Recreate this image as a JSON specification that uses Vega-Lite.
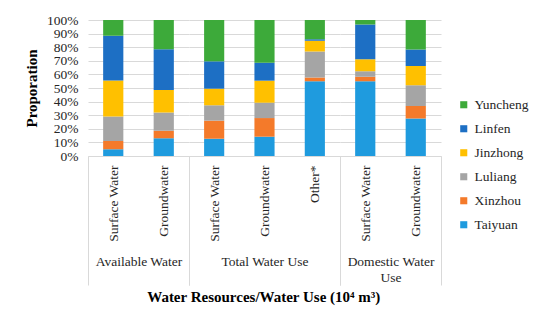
{
  "$schema": "https://vega.github.io/schema/vega-lite/v6.json",
  "background": "white",
  "padding": {"left": 24, "top": 13, "right": 5, "bottom": 5},
  "data": {"values": [
    {"group": "Available Water", "type": "Surface Water", "city": "Taiyuan", "value": 5.0},
    {"group": "Available Water", "type": "Surface Water", "city": "Xinzhou", "value": 6.0},
    {"group": "Available Water", "type": "Surface Water", "city": "Luliang", "value": 18.0},
    {"group": "Available Water", "type": "Surface Water", "city": "Jinzhong", "value": 26.5},
    {"group": "Available Water", "type": "Surface Water", "city": "Linfen", "value": 33.0},
    {"group": "Available Water", "type": "Surface Water", "city": "Yuncheng", "value": 11.5},
    {"group": "Available Water", "type": "Groundwater", "city": "Taiyuan", "value": 13.0},
    {"group": "Available Water", "type": "Groundwater", "city": "Xinzhou", "value": 5.5},
    {"group": "Available Water", "type": "Groundwater", "city": "Luliang", "value": 13.5},
    {"group": "Available Water", "type": "Groundwater", "city": "Jinzhong", "value": 16.5},
    {"group": "Available Water", "type": "Groundwater", "city": "Linfen", "value": 30.0},
    {"group": "Available Water", "type": "Groundwater", "city": "Yuncheng", "value": 21.5},
    {"group": "Total Water Use", "type": "Surface Water", "city": "Taiyuan", "value": 12.7},
    {"group": "Total Water Use", "type": "Surface Water", "city": "Xinzhou", "value": 13.3},
    {"group": "Total Water Use", "type": "Surface Water", "city": "Luliang", "value": 11.3},
    {"group": "Total Water Use", "type": "Surface Water", "city": "Jinzhong", "value": 12.2},
    {"group": "Total Water Use", "type": "Surface Water", "city": "Linfen", "value": 20.1},
    {"group": "Total Water Use", "type": "Surface Water", "city": "Yuncheng", "value": 30.4},
    {"group": "Total Water Use", "type": "Groundwater", "city": "Taiyuan", "value": 14.2},
    {"group": "Total Water Use", "type": "Groundwater", "city": "Xinzhou", "value": 13.7},
    {"group": "Total Water Use", "type": "Groundwater", "city": "Luliang", "value": 11.3},
    {"group": "Total Water Use", "type": "Groundwater", "city": "Jinzhong", "value": 16.2},
    {"group": "Total Water Use", "type": "Groundwater", "city": "Linfen", "value": 13.2},
    {"group": "Total Water Use", "type": "Groundwater", "city": "Yuncheng", "value": 31.4},
    {"group": "Total Water Use", "type": "Other*", "city": "Taiyuan", "value": 54.9},
    {"group": "Total Water Use", "type": "Other*", "city": "Xinzhou", "value": 2.9},
    {"group": "Total Water Use", "type": "Other*", "city": "Luliang", "value": 19.1},
    {"group": "Total Water Use", "type": "Other*", "city": "Jinzhong", "value": 7.9},
    {"group": "Total Water Use", "type": "Other*", "city": "Linfen", "value": 1.0},
    {"group": "Total Water Use", "type": "Other*", "city": "Yuncheng", "value": 14.2},
    {"group": "Domestic Water Use", "type": "Surface Water", "city": "Taiyuan", "value": 54.9},
    {"group": "Domestic Water Use", "type": "Surface Water", "city": "Xinzhou", "value": 3.4},
    {"group": "Domestic Water Use", "type": "Surface Water", "city": "Luliang", "value": 4.0},
    {"group": "Domestic Water Use", "type": "Surface Water", "city": "Jinzhong", "value": 8.8},
    {"group": "Domestic Water Use", "type": "Surface Water", "city": "Linfen", "value": 25.5},
    {"group": "Domestic Water Use", "type": "Surface Water", "city": "Yuncheng", "value": 3.4},
    {"group": "Domestic Water Use", "type": "Groundwater", "city": "Taiyuan", "value": 27.5},
    {"group": "Domestic Water Use", "type": "Groundwater", "city": "Xinzhou", "value": 9.3},
    {"group": "Domestic Water Use", "type": "Groundwater", "city": "Luliang", "value": 15.2},
    {"group": "Domestic Water Use", "type": "Groundwater", "city": "Jinzhong", "value": 14.2},
    {"group": "Domestic Water Use", "type": "Groundwater", "city": "Linfen", "value": 12.2},
    {"group": "Domestic Water Use", "type": "Groundwater", "city": "Yuncheng", "value": 21.6}
  ]},
  "title": {"text": "Water Resources/Water Use (10⁴ m³)", "orient": "bottom", "anchor": "middle", "font": "Liberation Serif", "fontSize": 15, "fontWeight": "bold", "color": "black", "offset": 4, "dx": -13},
  "spacing": 0,
  "bounds": "flush",
  "resolve": {"scale": {"x": "independent", "y": "shared", "color": "shared"}},
  "config": {
    "font": "Liberation Serif",
    "view": {"stroke": null},
    "axis": {"labelFont": "Liberation Serif", "labelFontSize": 13.5, "labelColor": "#262626", "titleFont": "Liberation Serif", "titleColor": "#262626", "gridColor": "#D9D9D9", "domainColor": "#D9D9D9", "tickColor": "#D9D9D9"},
    "legend": {"labelFont": "Liberation Serif", "labelFontSize": 13.5, "labelColor": "#262626"}
  },
  "hconcat": [
    {
      "width": 101, "height": 136,
      "transform": [{"filter": "datum.group === 'Available Water'"}, {"window": [{"op": "row_number", "as": "series"}], "groupby": ["type"]}],
      "mark": {"type": "bar", "width": {"band": 0.4}},
      "encoding": {
        "x": {"field": "type", "type": "nominal", "sort": ["Surface Water", "Groundwater"], "scale": {"paddingInner": 0, "paddingOuter": 0},
          "axis": {"title": "Available Water", "labelAngle": -90, "labelFont": "Liberation Serif", "titleFont": "Liberation Serif", "tickBand": "extent", "tickSize": 129, "labelPadding": -120,
            "tickOpacity": {"condition": {"test": "datum.value === 'Surface Water'", "value": 0}, "value": 1},
            "titleY": 98, "titleBaseline": "top", "titleFontSize": 13.5, "titleFontWeight": "normal", "titleLineHeight": 16}},
        "y": {"field": "value", "type": "quantitative", "stack": "normalize", "scale": {"domain": [0, 1]},
          "axis": {"title": "Proporation", "labelFont": "Liberation Serif", "titleFont": "Liberation Serif", "values": [0, 0.1, 0.2, 0.3, 0.4, 0.5, 0.6, 0.7, 0.8, 0.9, 1], "format": ".0%", "grid": true, "domain": false, "ticks": false, "labelPadding": 10, "titleFontSize": 15, "titleFontWeight": "bold", "titleColor": "black", "titlePadding": 7}},
        "order": {"field": "series", "type": "quantitative", "sort": "ascending"},
        "color": {"field": "city", "type": "nominal",
          "scale": {"domain": ["Taiyuan", "Xinzhou", "Luliang", "Jinzhong", "Linfen", "Yuncheng"], "range": ["#1F9BDE", "#F47A2A", "#A5A5A5", "#FFC000", "#1D6FC4", "#3DAA3A"]},
          "legend": {"title": null, "orient": "none", "legendX": 369, "legendY": 78, "values": ["Yuncheng", "Linfen", "Jinzhong", "Luliang", "Xinzhou", "Taiyuan"], "labelFont": "Liberation Serif", "symbolType": "square", "symbolSize": 50, "rowPadding": 9, "labelOffset": 4}}
      }
    },
    {
      "width": 151, "height": 136,
      "transform": [{"filter": "datum.group === 'Total Water Use'"}, {"window": [{"op": "row_number", "as": "series"}], "groupby": ["type"]}],
      "mark": {"type": "bar", "width": {"band": 0.4}},
      "encoding": {
        "x": {"field": "type", "type": "nominal", "sort": ["Surface Water", "Groundwater", "Other*"], "scale": {"paddingInner": 0, "paddingOuter": 0},
          "axis": {"title": "Total Water Use", "labelAngle": -90, "labelFont": "Liberation Serif", "titleFont": "Liberation Serif", "tickBand": "extent", "tickSize": 129, "labelPadding": -120,
            "tickOpacity": {"condition": {"test": "datum.value === 'Surface Water' || datum.value === 'Groundwater'", "value": 0}, "value": 1},
            "titleY": 98, "titleBaseline": "top", "titleFontSize": 13.5, "titleFontWeight": "normal", "titleLineHeight": 16}},
        "y": {"field": "value", "type": "quantitative", "stack": "normalize", "scale": {"domain": [0, 1]},
          "axis": {"title": null, "labels": false, "values": [0, 0.1, 0.2, 0.3, 0.4, 0.5, 0.6, 0.7, 0.8, 0.9, 1], "grid": true, "domain": false, "ticks": false}},
        "order": {"field": "series", "type": "quantitative", "sort": "ascending"},
        "color": {"field": "city", "type": "nominal"}
      }
    },
    {
      "width": 101, "height": 136,
      "transform": [{"filter": "datum.group === 'Domestic Water Use'"}, {"window": [{"op": "row_number", "as": "series"}], "groupby": ["type"]}],
      "mark": {"type": "bar", "width": {"band": 0.4}},
      "encoding": {
        "x": {"field": "type", "type": "nominal", "sort": ["Surface Water", "Groundwater"], "scale": {"paddingInner": 0, "paddingOuter": 0},
          "axis": {"title": ["Domestic Water", "Use"], "labelAngle": -90, "labelFont": "Liberation Serif", "titleFont": "Liberation Serif", "tickBand": "extent", "tickSize": 129, "labelPadding": -120,
            "tickOpacity": {"condition": {"test": "datum.value === 'Surface Water'", "value": 0}, "value": 1},
            "titleY": 98, "titleBaseline": "top", "titleFontSize": 13.5, "titleFontWeight": "normal", "titleLineHeight": 16}},
        "y": {"field": "value", "type": "quantitative", "stack": "normalize", "scale": {"domain": [0, 1]},
          "axis": {"title": null, "labels": false, "values": [0, 0.1, 0.2, 0.3, 0.4, 0.5, 0.6, 0.7, 0.8, 0.9, 1], "grid": true, "domain": false, "ticks": false}},
        "order": {"field": "series", "type": "quantitative", "sort": "ascending"},
        "color": {"field": "city", "type": "nominal"}
      }
    }
  ]
}
